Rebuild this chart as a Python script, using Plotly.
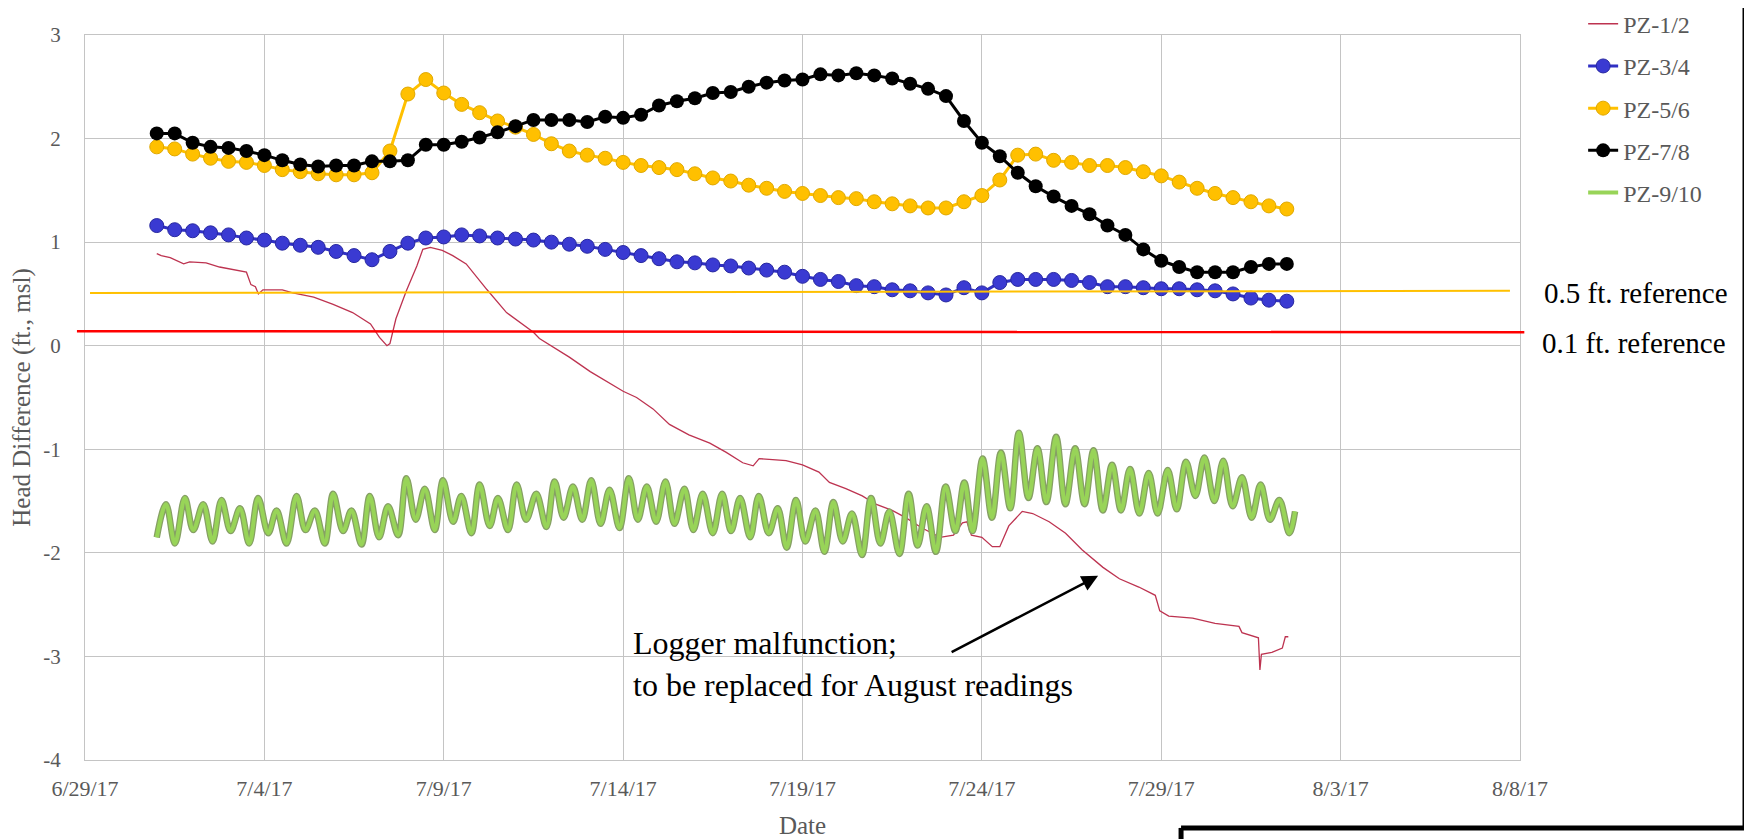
import plotly.graph_objects as go
import pandas as pd

# twice-daily readings (7/1/17 00:00 to 8/1/17 12:00)
reading_times = pd.date_range("2017-07-01 00:00", periods=64, freq="12h")

pz34 = [1.16, 1.12, 1.11, 1.09, 1.07, 1.04, 1.02, 0.99, 0.97, 0.95,
        0.91, 0.87, 0.83, 0.91, 0.99, 1.04, 1.05, 1.07, 1.06, 1.04,
        1.03, 1.02, 1.00, 0.98, 0.96, 0.93, 0.90, 0.87, 0.84, 0.81,
        0.80, 0.78, 0.77, 0.75, 0.73, 0.71, 0.67, 0.64, 0.62, 0.58,
        0.57, 0.54, 0.53, 0.51, 0.49, 0.56, 0.51, 0.61, 0.64, 0.64,
        0.64, 0.63, 0.61, 0.57, 0.57, 0.56, 0.55, 0.55, 0.54, 0.53,
        0.50, 0.46, 0.44, 0.43]

pz56 = [1.92, 1.90, 1.85, 1.81, 1.78, 1.77, 1.74, 1.70, 1.68, 1.66,
        1.65, 1.65, 1.67, 1.88, 2.43, 2.57, 2.44, 2.33, 2.25, 2.17,
        2.11, 2.04, 1.95, 1.88, 1.84, 1.81, 1.77, 1.74, 1.72, 1.70,
        1.66, 1.62, 1.59, 1.55, 1.52, 1.49, 1.47, 1.45, 1.43, 1.42,
        1.39, 1.37, 1.35, 1.33, 1.33, 1.39, 1.45, 1.60, 1.84, 1.85,
        1.79, 1.77, 1.74, 1.74, 1.72, 1.68, 1.64, 1.58, 1.52, 1.47,
        1.43, 1.39, 1.35, 1.32]

pz78 = [2.05, 2.05, 1.96, 1.92, 1.91, 1.88, 1.84, 1.79, 1.75, 1.73,
        1.74, 1.74, 1.78, 1.78, 1.79, 1.94, 1.94, 1.97, 2.01, 2.06,
        2.12, 2.18, 2.18, 2.18, 2.16, 2.21, 2.20, 2.23, 2.32, 2.36,
        2.39, 2.44, 2.45, 2.50, 2.54, 2.56, 2.57, 2.62, 2.61, 2.63,
        2.61, 2.58, 2.53, 2.48, 2.41, 2.17, 1.96, 1.83, 1.67, 1.54,
        1.44, 1.35, 1.27, 1.16, 1.07, 0.93, 0.82, 0.76, 0.71, 0.71,
        0.71, 0.76, 0.79, 0.79]

# PZ-1/2 logger trace
pz12_time = ["2017-07-01 00:00", "2017-07-01 03:00", "2017-07-01 09:00", "2017-07-01 18:00",
             "2017-07-01 22:00", "2017-07-02 09:00", "2017-07-02 18:00", "2017-07-03 06:00",
             "2017-07-03 12:00", "2017-07-03 15:00", "2017-07-03 18:00", "2017-07-03 20:00",
             "2017-07-03 23:00", "2017-07-04 06:00", "2017-07-04 12:00", "2017-07-04 19:00",
             "2017-07-05 09:00", "2017-07-05 22:00", "2017-07-06 11:00", "2017-07-06 23:00",
             "2017-07-07 05:00", "2017-07-07 10:00", "2017-07-07 12:00", "2017-07-07 16:00",
             "2017-07-07 23:00", "2017-07-08 06:00", "2017-07-08 10:00", "2017-07-08 15:00",
             "2017-07-08 23:00", "2017-07-09 06:00", "2017-07-09 15:00", "2017-07-10 05:00",
             "2017-07-10 18:00", "2017-07-11 12:00", "2017-07-11 16:00", "2017-07-12 12:00",
             "2017-07-13 02:00", "2017-07-14 00:00", "2017-07-14 09:00", "2017-07-14 20:00",
             "2017-07-15 07:00", "2017-07-15 20:00", "2017-07-16 10:00", "2017-07-16 21:00",
             "2017-07-17 08:00", "2017-07-17 15:00", "2017-07-17 19:00", "2017-07-18 04:00",
             "2017-07-18 13:00", "2017-07-19 00:00", "2017-07-19 11:00", "2017-07-19 18:00",
             "2017-07-20 05:00", "2017-07-20 16:00", "2017-07-21 01:00", "2017-07-21 12:00",
             "2017-07-21 21:00", "2017-07-22 08:00", "2017-07-22 20:00", "2017-07-23 05:00",
             "2017-07-23 11:00", "2017-07-23 14:00", "2017-07-23 17:00", "2017-07-24 00:00",
             "2017-07-24 07:00", "2017-07-24 12:00", "2017-07-24 18:00", "2017-07-25 03:00",
             "2017-07-25 10:00", "2017-07-25 21:00", "2017-07-26 08:00", "2017-07-26 19:00",
             "2017-07-27 09:00", "2017-07-27 20:00", "2017-07-28 09:00", "2017-07-28 20:00",
             "2017-07-28 23:00", "2017-07-29 05:00", "2017-07-29 21:00", "2017-07-30 12:00",
             "2017-07-31 04:00", "2017-07-31 06:00", "2017-07-31 17:00", "2017-07-31 18:00",
             "2017-07-31 19:00", "2017-08-01 02:00", "2017-08-01 09:00", "2017-08-01 11:00",
             "2017-08-01 13:00"]
pz12 = [0.89, 0.87, 0.85, 0.79, 0.81, 0.80, 0.76, 0.73, 0.71, 0.59,
        0.57, 0.50, 0.54, 0.54, 0.54, 0.51, 0.47, 0.40, 0.32, 0.21,
        0.08, 0.00, 0.02, 0.26, 0.53, 0.77, 0.93, 0.95, 0.92, 0.87,
        0.79, 0.54, 0.32, 0.13, 0.07, -0.11, -0.25, -0.44, -0.50, -0.61,
        -0.76, -0.86, -0.94, -1.03, -1.13, -1.16, -1.09, -1.10, -1.11, -1.15,
        -1.22, -1.32, -1.38, -1.45, -1.53, -1.59, -1.66, -1.76, -1.85, -1.83,
        -1.71, -1.70, -1.83, -1.85, -1.94, -1.94, -1.74, -1.60, -1.62, -1.70,
        -1.81, -1.97, -2.14, -2.25, -2.33, -2.41, -2.56, -2.61, -2.63, -2.68,
        -2.71, -2.77, -2.82, -3.13, -2.98, -2.96, -2.92, -2.81, -2.81]

# PZ-9/10 tidal highs and lows
pz910_time = ["2017-07-01 00:00", "2017-07-01 06:10", "2017-07-01 12:10", "2017-07-01 18:50",
              "2017-07-02 00:25", "2017-07-02 07:05", "2017-07-02 13:20", "2017-07-02 19:20",
              "2017-07-03 01:25", "2017-07-03 07:40", "2017-07-03 13:50", "2017-07-03 19:50",
              "2017-07-04 02:35", "2017-07-04 08:10", "2017-07-04 14:50", "2017-07-04 21:30",
              "2017-07-05 03:30", "2017-07-05 09:45", "2017-07-05 16:25", "2017-07-05 22:00",
              "2017-07-06 04:40", "2017-07-06 10:15", "2017-07-06 17:00", "2017-07-06 22:30",
              "2017-07-07 04:45", "2017-07-07 10:45", "2017-07-07 17:30", "2017-07-07 23:00",
              "2017-07-08 05:15", "2017-07-08 11:20", "2017-07-08 18:00", "2017-07-08 23:30",
              "2017-07-09 06:15", "2017-07-09 11:45", "2017-07-09 18:30", "2017-07-10 00:00",
              "2017-07-10 06:45", "2017-07-10 12:15", "2017-07-10 19:00", "2017-07-11 00:45",
              "2017-07-11 07:10", "2017-07-11 13:55", "2017-07-11 20:40", "2017-07-12 02:10",
              "2017-07-12 08:10", "2017-07-12 14:25", "2017-07-12 20:40", "2017-07-13 02:40",
              "2017-07-13 08:55", "2017-07-13 14:55", "2017-07-13 21:35", "2017-07-14 03:50",
              "2017-07-14 09:50", "2017-07-14 15:50", "2017-07-14 22:05", "2017-07-15 04:20",
              "2017-07-15 10:20", "2017-07-15 17:00", "2017-07-15 23:00", "2017-07-16 05:15",
              "2017-07-16 12:00", "2017-07-16 18:15", "2017-07-17 00:15", "2017-07-17 06:15",
              "2017-07-17 13:00", "2017-07-17 18:45", "2017-07-18 01:25", "2017-07-18 07:25",
              "2017-07-18 13:25", "2017-07-18 19:40", "2017-07-19 01:55", "2017-07-19 08:40",
              "2017-07-19 14:40", "2017-07-19 20:40", "2017-07-20 02:55", "2017-07-20 09:05",
              "2017-07-20 15:50", "2017-07-20 21:50", "2017-07-21 04:05", "2017-07-21 10:05",
              "2017-07-21 16:50", "2017-07-21 23:00", "2017-07-22 05:00", "2017-07-22 11:00",
              "2017-07-22 17:15", "2017-07-22 23:45", "2017-07-23 06:15", "2017-07-23 12:15",
              "2017-07-23 17:45", "2017-07-24 00:30", "2017-07-24 06:45", "2017-07-24 12:45",
              "2017-07-24 19:00", "2017-07-25 00:45", "2017-07-25 07:10", "2017-07-25 13:10",
              "2017-07-25 19:10", "2017-07-26 01:40", "2017-07-26 07:55", "2017-07-26 14:25",
              "2017-07-26 20:40", "2017-07-27 02:40", "2017-07-27 08:55", "2017-07-27 15:05",
              "2017-07-27 21:05", "2017-07-28 03:05", "2017-07-28 09:20", "2017-07-28 15:35",
              "2017-07-28 21:35", "2017-07-29 04:20", "2017-07-29 10:20", "2017-07-29 16:35",
              "2017-07-29 22:50", "2017-07-30 04:50", "2017-07-30 11:30", "2017-07-30 17:30",
              "2017-07-30 23:45", "2017-07-31 06:00", "2017-07-31 12:30", "2017-07-31 18:30",
              "2017-08-01 00:45", "2017-08-01 07:00", "2017-08-01 13:40", "2017-08-01 17:30"]
pz910 = [-1.85, -1.53, -1.91, -1.47, -1.78, -1.53, -1.89, -1.49,
         -1.79, -1.57, -1.91, -1.47, -1.81, -1.59, -1.91, -1.45,
         -1.78, -1.59, -1.91, -1.43, -1.79, -1.59, -1.92, -1.45,
         -1.85, -1.55, -1.83, -1.28, -1.68, -1.38, -1.78, -1.30,
         -1.70, -1.45, -1.81, -1.34, -1.74, -1.47, -1.78, -1.34,
         -1.68, -1.43, -1.75, -1.31, -1.66, -1.36, -1.68, -1.30,
         -1.72, -1.39, -1.76, -1.28, -1.68, -1.36, -1.70, -1.31,
         -1.72, -1.38, -1.78, -1.43, -1.81, -1.43, -1.79, -1.47,
         -1.85, -1.45, -1.81, -1.57, -1.95, -1.49, -1.89, -1.59,
         -1.99, -1.51, -1.89, -1.62, -2.02, -1.47, -1.91, -1.60,
         -2.01, -1.43, -1.93, -1.55, -1.99, -1.36, -1.79, -1.32,
         -1.79, -1.09, -1.66, -1.03, -1.57, -0.84, -1.47, -0.99,
         -1.51, -0.88, -1.53, -0.99, -1.53, -1.01, -1.59, -1.15,
         -1.59, -1.19, -1.62, -1.23, -1.62, -1.20, -1.58, -1.12,
         -1.45, -1.08, -1.50, -1.11, -1.55, -1.27, -1.66, -1.34,
         -1.68, -1.49, -1.81, -1.60]

tick_dates = ["2017-06-29", "2017-07-04", "2017-07-09", "2017-07-14", "2017-07-19",
              "2017-07-24", "2017-07-29", "2017-08-03", "2017-08-08"]
tick_text = ["6/29/17", "7/4/17", "7/9/17", "7/14/17", "7/19/17",
             "7/24/17", "7/29/17", "8/3/17", "8/8/17"]
y_ticks = [-4, -3, -2, -1, 0, 1, 2, 3]
y_text = ["-4", "-3", "-2", "-1", "0", "1", "2", "3"]

# reference lines (drawn levels, start/end)
ref_half = [0.51, 0.53]
ref_tenth = [0.14, 0.13]

FONT = "Times New Roman, Liberation Serif, serif"
GRID = "#C4C4C4"

fig = go.Figure()
fig.add_trace(go.Scatter(x=pz12_time, y=pz12, name="PZ-1/2", mode="lines",
                         line=dict(color="#BD3350", width=1.3), legendgroup="a"))
fig.add_trace(go.Scatter(x=reading_times, y=pz34, name="PZ-3/4", mode="lines+markers",
                         line=dict(color="#3030C4", width=3), legendgroup="b",
                         marker=dict(size=14, color="#3A3AD2", line=dict(color="#2828A0", width=1))))
fig.add_trace(go.Scatter(x=reading_times, y=pz56, name="PZ-5/6", mode="lines+markers",
                         line=dict(color="#FFC000", width=3), legendgroup="c",
                         marker=dict(size=14, color="#FFC000", line=dict(color="#E0A800", width=1))))
fig.add_trace(go.Scatter(x=reading_times, y=pz78, name="PZ-7/8", mode="lines+markers",
                         line=dict(color="#000000", width=3), legendgroup="d",
                         marker=dict(size=14, color="#000000")))
fig.add_trace(go.Scatter(x=pz910_time, y=pz910, mode="lines", showlegend=False,
                         line=dict(color="#86A064", width=6.5, shape="spline"), legendgroup="e",
                         hoverinfo="skip"))
fig.add_trace(go.Scatter(x=pz910_time, y=pz910, name="PZ-9/10", mode="lines",
                         line=dict(color="#98D458", width=4, shape="spline"), legendgroup="e"))

fig.update_xaxes(type="date", range=["2017-06-29", "2017-08-08"],
                 tickvals=tick_dates, ticktext=tick_text, automargin=False,
                 showgrid=True, gridcolor=GRID, gridwidth=1.3,
                 showline=True, linecolor=GRID, linewidth=1.3, mirror=True,
                 zeroline=False, ticks="", ticklabelstandoff=8,
                 tickfont=dict(family=FONT, size=22, color="#595959"),
                 title=dict(text="Date", font=dict(family=FONT, size=25, color="#595959"),
                            standoff=18))
fig.update_yaxes(range=[-4, 3], tickvals=y_ticks, ticktext=y_text, automargin=False,
                 showgrid=True, gridcolor=GRID, gridwidth=1.3,
                 showline=True, linecolor=GRID, linewidth=1.3, mirror=True,
                 zeroline=False, ticks="", ticklabelstandoff=19,
                 tickfont=dict(family=FONT, size=21, color="#595959"),
                 title=dict(text="Head Difference (ft., msl)",
                            font=dict(family=FONT, size=25, color="#595959"), standoff=5))

fig.add_shape(type="line", xref="paper", yref="y", x0=0.0035, x1=0.993,
              y0=ref_half[0], y1=ref_half[1], line=dict(color="#FFC000", width=2), layer="above")
fig.add_shape(type="line", xref="paper", yref="y", x0=-0.0056, x1=1.003,
              y0=ref_tenth[0], y1=ref_tenth[1], line=dict(color="#FF0000", width=2.5), layer="above")

# black frame lines at the right / bottom edge of the page
frame = dict(color="#000000", width=5)
fig.add_shape(type="line", xref="paper", yref="paper", x0=1.1568, x1=1.1568, y0=-0.0937, y1=1.07, line=frame)
fig.add_shape(type="line", xref="paper", yref="paper", x0=0.7638, x1=1.1585, y0=-0.0937, y1=-0.0937, line=frame)
fig.add_shape(type="line", xref="paper", yref="paper", x0=0.7638, x1=0.7638, y0=-0.0937, y1=-0.14, line=frame)

fig.add_annotation(text="0.5 ft. reference", xref="paper", yref="paper", x=1.0808, y=0.6438,
                   xanchor="center", yanchor="middle",
                   showarrow=False, font=dict(family=FONT, size=29, color="#000000"))
fig.add_annotation(text="0.1 ft. reference", xref="paper", yref="paper", x=1.0794, y=0.5749,
                   xanchor="center", yanchor="middle",
                   showarrow=False, font=dict(family=FONT, size=29, color="#000000"))
fig.add_annotation(text="Logger malfunction;<br>to be replaced for August readings",
                   xref="paper", yref="paper", x=0.3805, y=0.1323, xanchor="left", yanchor="middle",
                   align="left", showarrow=False, font=dict(family=FONT, size=32, color="#000000"))
fig.add_annotation(text="", xref="paper", yref="paper", x=0.706, y=0.254, ax=-148, ay=77,
                   showarrow=True, arrowhead=2, arrowsize=1.3, arrowwidth=2.5, arrowcolor="#000000")

# page body adds 8px, so the figure is placed 8px in from the top-left corner
fig.update_layout(
    width=1744, height=831,
    margin=dict(l=77, r=232, t=27, b=79, autoexpand=False),
    paper_bgcolor="white", plot_bgcolor="white",
    showlegend=True,
    legend=dict(x=1.044, y=1.046, xanchor="left", yanchor="top",
                font=dict(family=FONT, size=24, color="#595959"),
                bgcolor="rgba(0,0,0,0)", tracegroupgap=8, traceorder="grouped"),
)

fig.write_html("out.html")
